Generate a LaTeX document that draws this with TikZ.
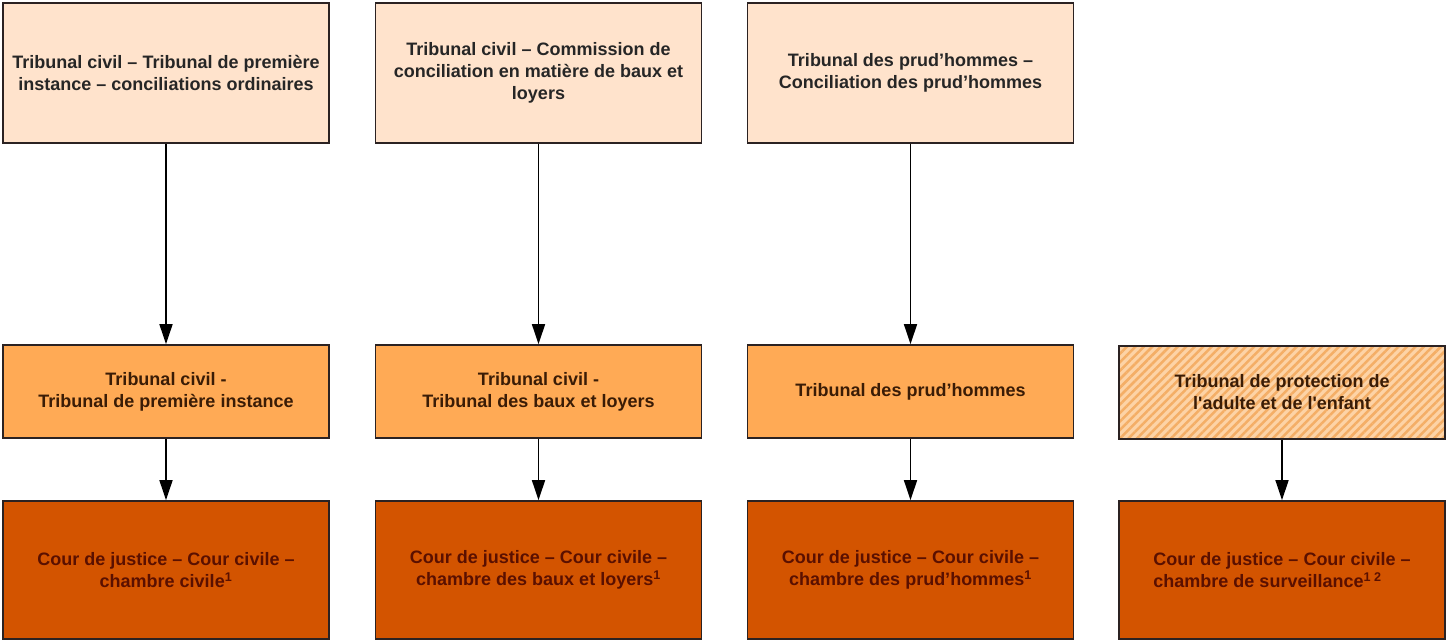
\documentclass[tikz,border=0pt]{standalone}
\usepackage{fontspec}
\setmainfont{Liberation Sans}
\usetikzlibrary{arrows.meta,patterns.meta}
\definecolor{boxline}{HTML}{2B2222}
\definecolor{concfill}{HTML}{FFE3CC}
\definecolor{tribfill}{HTML}{FFAA55}
\definecolor{courfill}{HTML}{D35400}
\definecolor{hatchbase}{HTML}{FDD3A6}
\definecolor{hatchline}{HTML}{F4AE66}
\definecolor{tribtext}{HTML}{3A1C06}
\definecolor{courtext}{HTML}{5A1000}
\begin{document}
\begin{tikzpicture}[x=1pt,y=-1pt]
	\tikzstyle{every node}=[font=\bfseries\fontsize{18}{22}\selectfont, align=center, draw=boxline, line width=1.7pt, minimum width=326pt, inner sep=0pt]
	\tikzstyle{conc}=[fill=concfill, text=black!85, minimum height=140pt]
	\tikzstyle{trib}=[fill=tribfill, text=tribtext, minimum height=93pt]
	\tikzstyle{cour}=[fill=courfill, text=courtext, minimum height=138pt]
	\tikzstyle{arw}=[draw=black, line width=1.6pt, -{Triangle[width=13pt,length=20pt]}]
	\useasboundingbox (0,0) rectangle (1448,642);
	
	% conciliation
	\node[conc] (conc1) at (166,73) {Tribunal civil -- Tribunal de première\\instance -- conciliations ordinaires};
	\node[conc] (conc2) at (538.5,73) {Tribunal civil -- Commission de\\conciliation en matière de baux et\\loyers};
	\node[conc] (conc3) at (910.5,73) {Tribunal des prud’hommes --\\Conciliation des prud’hommes};
	
	% premiere instance
	\node[trib] (trib1) at (166,391.5) {Tribunal civil -\\Tribunal de première instance};
	\node[trib] (trib2) at (538.5,391.5) {Tribunal civil -\\Tribunal des baux et loyers};
	\node[trib] (trib3) at (910.5,391.5) {Tribunal des prud’hommes};
	\node[trib, fill=none, preaction={fill=hatchbase}, pattern={Lines[angle=45,distance=6pt,line width=2.5pt]}, pattern color=hatchline] (trib4) at (1282,392.5) {Tribunal de protection de\\l\textquotesingle adulte et de l\textquotesingle enfant};
	
	% cour de justice
	\node[cour] (cour1) at (166,570) {Cour de justice -- Cour civile --\\chambre civile\textsuperscript{1}};
	\node[cour] (cour2) at (538.5,570) {Cour de justice -- Cour civile --\\chambre des baux et loyers\textsuperscript{1}};
	\node[cour] (cour3) at (910.5,570) {Cour de justice -- Cour civile --\\chambre des prud’hommes\textsuperscript{1}};
	\node[cour, align=left] (cour4) at (1282,570) {Cour de justice -- Cour civile --\\chambre de surveillance\textsuperscript{1 2}};
	
	\foreach \i in {1,2,3}{
		\draw[arw] (conc\i) -- (trib\i);
	}
	\foreach \i in {1,2,3,4}{
		\draw[arw] (trib\i) -- (cour\i);
	}
\end{tikzpicture}
\end{document}
